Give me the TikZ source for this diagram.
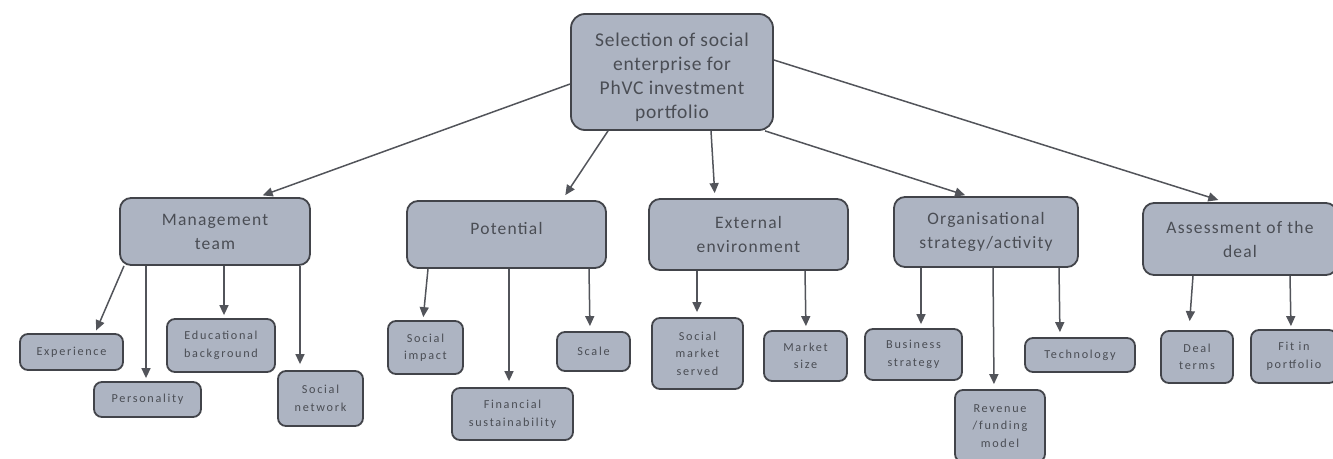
\documentclass[tikz,border=0pt]{standalone}
\usepackage{fontspec}
\setmainfont{Carlito}
\newfontfamily\rootfont[LetterSpace=4]{Carlito}
\newfontfamily\catfont[LetterSpace=7]{Carlito}
\newfontfamily\leaffont[LetterSpace=14]{Carlito}
\usetikzlibrary{arrows.meta}

\definecolor{boxfill}{RGB}{173,180,194}
\definecolor{boxline}{RGB}{66,68,74}
\definecolor{boxtext}{RGB}{74,77,84}
\definecolor{arrowcol}{RGB}{82,84,90}

\tikzset{
	box/.style={draw=boxline, fill=boxfill, line width=1.8pt, text=boxtext, align=center, inner sep=0pt, rounded corners=11pt},
	root/.style={box, rounded corners=14pt, font=\rootfont\fontsize{19.5}{24}\selectfont},
	cat/.style={box, font=\catfont\fontsize{17.5}{24}\selectfont},
	leaf/.style={box, rounded corners=8pt, font=\leaffont\fontsize{12.2}{17.5}\selectfont},
	conn/.style={draw=arrowcol, line width=1.5pt, shorten >=3pt, -{Triangle[length=10pt,width=9pt]}},
}

\begin{document}
\begin{tikzpicture}[x=1pt, y=-1pt]
	\useasboundingbox (0,0) rectangle (1333,458);

	% root and the five criteria
	\node[root, minimum width=202, minimum height=116] (sel) at (672,72) {\mbox{}\\[0pt]Selection of social\\enterprise for\\PhVC investment\\portfolio};
	\node[cat, minimum width=190, minimum height=67] (mgmt) at (215,231.5) {Management\\team};
	\node[cat, minimum width=199, minimum height=67, text height=12pt, text depth=13pt] (pot) at (506.5,234.5) {Potential};
	\node[cat, minimum width=199, minimum height=71] (ext) at (748.5,234.5) {External\\environment};
	\node[cat, minimum width=184, minimum height=70] (org) at (986,232) {Organisational\\strategy/activity};
	\node[cat, minimum width=194, minimum height=72] (ass) at (1240,239) {Assessment of the\\deal};

	% sub-criteria
	\node[leaf, minimum width=103, minimum height=36] (exp) at (71.5,352) {Experience};
	\node[leaf, minimum width=107, minimum height=35] (pers) at (147.5,399.5) {Personality};
	\node[leaf, minimum width=108, minimum height=53] (edu) at (221,345.5) {Educational\\background};
	\node[leaf, minimum width=85, minimum height=55] (snet) at (320.5,398.5) {Social\\network};
	\node[leaf, minimum width=75, minimum height=53] (simp) at (425.5,347.5) {Social\\impact};
	\node[leaf, minimum width=121, minimum height=52] (fin) at (512.5,414) {Financial\\sustainability};
	\node[leaf, minimum width=73, minimum height=39] (scale) at (593.5,351.5) {Scale};
	\node[leaf, minimum width=91, minimum height=71] (smkt) at (697.5,353.5) {Social\\market\\served};
	\node[leaf, minimum width=83, minimum height=50] (msize) at (805.5,356) {Market\\size};
	\node[leaf, minimum width=97, minimum height=51] (bstr) at (913.5,354.5) {Business\\strategy};
	\node[leaf, minimum width=90, minimum height=72] (rev) at (1000,426) {Revenue\\/funding\\model};
	\node[leaf, minimum width=110, minimum height=34] (tech) at (1080,355) {Technology};
	\node[leaf, minimum width=72, minimum height=52] (deal) at (1197,357) {Deal\\terms};
	\node[leaf, minimum width=86, minimum height=53] (fit) at (1294,356.5) {Fit in\\portfolio};

	% root to criteria
	\draw[conn, shorten >=5pt] ([yshift=-12pt]sel.west) -- ([xshift=43pt]mgmt.north);
	\draw[conn, shorten >=6pt] ([xshift=-64pt]sel.south) -- ([xshift=55.5pt]pot.north);
	\draw[conn, shorten >=5pt] ([xshift=39pt]sel.south) -- ([xshift=-33.5pt]ext.north);
	\draw[conn] ([xshift=93pt]sel.south) -- ([xshift=-18pt]org.north);
	\draw[conn, shorten >=7pt] ([yshift=12pt]sel.east) -- ([xshift=-15pt]ass.north);

	% management team
	\draw[conn] ([xshift=-91pt]mgmt.south) -- ([xshift=23.5pt]exp.north);
	\draw[conn] ([xshift=-69pt]mgmt.south) -- ([xshift=-1.5pt]pers.north);
	\draw[conn] ([xshift=9pt]mgmt.south) -- ([xshift=3pt]edu.north);
	\draw[conn, shorten >=6pt] ([xshift=85pt]mgmt.south) -- ([xshift=-20.5pt]snet.north);

	% potential
	\draw[conn] ([xshift=-78.5pt]pot.south) -- ([xshift=-2.5pt]simp.north);
	\draw[conn, shorten >=6pt] ([xshift=2.5pt]pot.south) -- ([xshift=-3.5pt]fin.north);
	\draw[conn, shorten >=5pt] ([xshift=82.5pt]pot.south) -- ([xshift=-3.5pt]scale.north);

	% external environment
	\draw[conn, shorten >=5pt] ([xshift=-51.5pt]ext.south) -- ([xshift=-0.5pt]smkt.north);
	\draw[conn, shorten >=4pt] ([xshift=56.5pt]ext.south) -- ([xshift=0.5pt]msize.north);

	% organisational strategy
	\draw[conn, shorten >=4pt] ([xshift=-65pt]org.south) -- ([xshift=7.5pt]bstr.north);
	\draw[conn, shorten >=5pt] ([xshift=7pt]org.south) -- ([xshift=-6pt]rev.north);
	\draw[conn, shorten >=5pt] ([xshift=73pt]org.south) -- ([xshift=-20pt]tech.north);

	% assessment of the deal
	\draw[conn, shorten >=9pt] ([xshift=-47pt]ass.south) -- ([xshift=-8pt]deal.north);
	\draw[conn] ([xshift=50pt]ass.south) -- ([xshift=-3pt]fit.north);
\end{tikzpicture}
\end{document}
